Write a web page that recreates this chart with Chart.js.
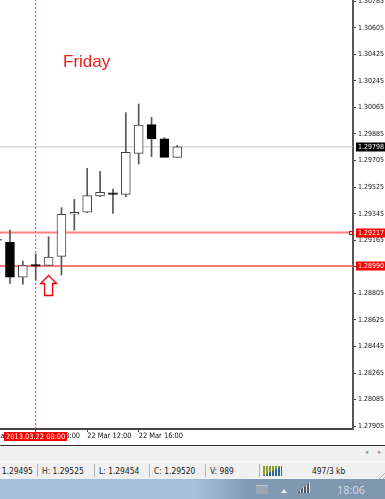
<!DOCTYPE html>
<html>
<head>
<meta charset="utf-8">
<script src="https://cdn.jsdelivr.net/npm/chart.js@4"></script>
<style>
    html, body { margin: 0; padding: 0; background: #fff; overflow: hidden; }
    body { width: 385px; height: 499px; position: relative; font-family: "DejaVu Sans Condensed", "DejaVu Sans", sans-serif; }
    #chart-box { position: absolute; left: 0; top: 0; width: 385px; height: 445px; }
    #scroll-band { position: absolute; left: 0; top: 445px; width: 385px; height: 16px; background: #f0f0f0; border-top: 1px solid #333; box-sizing: border-box; }
    #status-bar { position: absolute; left: 0; top: 461px; width: 385px; height: 18px; background: #f0f0f0; border-top: 1px solid #fafafa; box-sizing: border-box; font-size: 8.4px; line-height: 19px; color: #222; }
    #status-bar span { position: absolute; top: 0; white-space: nowrap; }
    #status-bar i { position: absolute; top: 2px; width: 1px; height: 13px; background: #b4b4b4; }
    #net-icon { position: absolute; left: 263px; top: 4px; width: 19px; height: 10px; background: repeating-linear-gradient(90deg, #2e6a94 0 2px, #e8eef0 2px 3px); }
    #net-icon b { position: absolute; left: 0; top: 0; width: 19px; height: 10px; background: repeating-linear-gradient(90deg, #8aa02c 0 2px, #e8eef0 2px 3px); clip-path: polygon(0 0, 100% 0, 0 100%); }
    #grip { position: absolute; right: 0; bottom: 0; width: 9px; height: 9px; background: repeating-linear-gradient(135deg, #f0f0f0 0 2px, #b0b0b0 2px 3px); clip-path: polygon(100% 0, 100% 100%, 0 100%); }
    #taskbar { position: absolute; left: 0; top: 479px; width: 385px; height: 20px; background: linear-gradient(90deg, #a7c0da 0, #a7c0da 195px, #8199b2 250px, #7f96ae 100%); }
    #clock { position: absolute; left: 337px; top: 3px; font: 11px "Open Sans", sans-serif; color: #d3deea; }
    #kbd { position: absolute; left: 256px; top: 6px; width: 12px; height: 8px; background: #9aa6b2; border-radius: 1px; border-top: 1px solid #c0c8d0; }
    #tray { position: absolute; left: 281px; top: 10px; width: 0; height: 0; border-left: 3px solid transparent; border-right: 3px solid transparent; border-bottom: 4px solid #e8eef4; }
    #signal { position: absolute; left: 297px; top: 3px; width: 13px; height: 11px; background: repeating-linear-gradient(90deg, #e4e8ee 0 1px, #4a5a6a 1px 3px); clip-path: polygon(0 100%, 100% 0, 100% 100%); }
</style>
</head>
<body>
<div id="chart-box"><canvas id="chart"></canvas></div>
<div id="scroll-band">
    <span style="position:absolute;left:365px;top:2px;font-size:7px;color:#999">◂</span>
    <span style="position:absolute;left:378px;top:2px;font-size:7px;color:#999">▸</span>
</div>
<div id="status-bar">
    <span style="left:-9px">O: 1.29495</span><i style="left:37px"></i>
    <span style="left:42px">H: 1.29525</span><i style="left:94px"></i>
    <span style="left:99px">L: 1.29454</span><i style="left:149px"></i>
    <span style="left:154px">C: 1.29520</span><i style="left:205px"></i>
    <span style="left:210px">V: 989</span><i style="left:259px"></i>
    <div id="net-icon"><b></b></div>
    <span style="left:312px">497/3 kb</span>
    <div id="grip"></div>
</div>
<div id="taskbar">
    <div id="kbd"></div><div id="tray"></div><div id="signal"></div>
    <div id="clock">18:06</div>
</div>
<script>
// Hourly candles, 22 Mar
const hours = [5, 6, 7, 8, 9, 10, 11, 12, 13, 14, 15, 16, 17, 18, 19];
const opens = [1.29170, 1.29151, 1.28914, 1.29000, 1.28995, 1.29056, 1.29341, 1.29356, 1.29465, 1.29487, 1.29476, 1.29754, 1.29948, 1.29853, 1.29727];
const highs = [1.29175, 1.29234, 1.29024, 1.29072, 1.29189, 1.29386, 1.29442, 1.29652, 1.29632, 1.29512, 1.30030, 1.30088, 1.29998, 1.29860, 1.29808];
const lows = [1.29160, 1.28873, 1.28868, 1.28896, 1.28995, 1.28930, 1.29234, 1.29352, 1.29460, 1.29347, 1.29460, 1.29682, 1.29731, 1.29727, 1.29727];
const closes = [1.29165, 1.28914, 1.28993, 1.28990, 1.29051, 1.29341, 1.29354, 1.29467, 1.29490, 1.29476, 1.29761, 1.29946, 1.29851, 1.29727, 1.29798];

const priceTicks = [1.30785, 1.30605, 1.30425, 1.30245, 1.30065, 1.29885, 1.29705, 1.29525, 1.29345, 1.29165, 1.28985, 1.28805, 1.28625, 1.28445, 1.28265, 1.28085, 1.27905];
const timeTicks = [4, 8, 12, 16];
const timeLabels = ['22 Mar 04:00', '22 Mar 08:00', '22 Mar 12:00', '22 Mar 16:00'];

const lastPrice = 1.29798;
const upperLevel = 1.29217;
const lowerLevel = 1.28990;
const markerHour = 8;
const markerLabel = '2013.03.22 08:00';
const arrowHour = 9;

const xMin = 5.226;
const xMax = 32.65;
const yMin = 1.27886;
const yMax = 1.30793;
const fontName = '"DejaVu Sans Condensed", "DejaVu Sans", sans-serif';

const wicks = hours.map((h, i) => ({ x: h, y: [lows[i], highs[i]] }));
const upBodies = [];
const downBodies = [];
hours.forEach((h, i) => {
    const body = { x: h, y: [Math.min(opens[i], closes[i]), Math.max(opens[i], closes[i])] };
    if (closes[i] >= opens[i]) upBodies.push(body);
    else downBodies.push(body);
});

function hLine(value) {
    return [{ x: xMin, y: value }, { x: xMax, y: value }];
}

// Labels hang over the plot edges in the terminal, so no padding for them
function clearPadding(axis) {
    axis.paddingLeft = 0;
    axis.paddingRight = 0;
    axis.paddingTop = 0;
    axis.paddingBottom = 0;
}

// Price tags, marker label, Friday text and the arrow sit on top of the datasets
const overlayPlugin = {
    id: 'overlay',
    afterDraw(chart) {
        const ctx = chart.ctx;
        const x = chart.scales.x;
        const y = chart.scales.y;

        function priceTag(value, bg) {
            const py = Math.round(y.getPixelForValue(value));
            ctx.fillStyle = bg;
            ctx.fillRect(356, py - 4.5, 29, 9);
            ctx.fillStyle = '#fff';
            ctx.font = '7px ' + fontName;
            ctx.textAlign = 'left';
            ctx.textBaseline = 'middle';
            ctx.fillText(value.toFixed(5), 358, py + 0.5);
        }

        ctx.save();
        priceTag(lastPrice, '#000');
        priceTag(upperLevel, '#ff0000');
        priceTag(lowerLevel, '#ff0000');

        // handle on the upper level
        const hy = Math.round(y.getPixelForValue(upperLevel));
        ctx.fillStyle = '#fff';
        ctx.strokeStyle = '#e00000';
        ctx.lineWidth = 1;
        ctx.fillRect(349.5, hy - 1.5, 3, 3);
        ctx.strokeRect(349.5, hy - 1.5, 3, 3);

        // marker time label
        ctx.fillStyle = '#ff0000';
        ctx.fillRect(4, 432, 63, 9);
        ctx.fillStyle = '#fff';
        ctx.font = '7.4px ' + fontName;
        ctx.textBaseline = 'middle';
        ctx.fillText(markerLabel, 6, 437);

        ctx.fillStyle = '#e8201c';
        ctx.font = '17px "Liberation Sans", sans-serif';
        ctx.fillText('Friday', 63, 62);

        // up arrow under the signal candle
        const ax = x.getPixelForValue(arrowHour);
        const ay = 275.5;
        ctx.beginPath();
        ctx.moveTo(ax, ay);
        ctx.lineTo(ax + 8, ay + 8);
        ctx.lineTo(ax + 4, ay + 8);
        ctx.lineTo(ax + 4, ay + 20);
        ctx.lineTo(ax - 4, ay + 20);
        ctx.lineTo(ax - 4, ay + 8);
        ctx.lineTo(ax - 8, ay + 8);
        ctx.closePath();
        ctx.fillStyle = '#fff';
        ctx.fill();
        ctx.strokeStyle = '#f00000';
        ctx.lineWidth = 1.3;
        ctx.stroke();
        ctx.restore();
    }
};

new Chart(document.getElementById('chart'), {
    data: {
        datasets: [
            { type: 'line', data: [{ x: markerHour, y: yMin }, { x: markerHour, y: yMax }], borderColor: '#f03030', borderWidth: 1, borderDash: [2, 2], pointRadius: 0, order: 5 },
            { type: 'line', data: hLine(lastPrice), borderColor: '#c8c8c8', borderWidth: 1, pointRadius: 0, order: 6 },
            { type: 'line', data: hLine(upperLevel), borderColor: '#ff8080', borderWidth: 2, pointRadius: 0, order: 4 },
            { type: 'line', data: hLine(lowerLevel), borderColor: '#ff5050', borderWidth: 1.5, pointRadius: 0, order: 4 },
            { type: 'bar', data: wicks, backgroundColor: '#555', barThickness: 1, grouped: false, order: 3 },
            { type: 'bar', data: upBodies, backgroundColor: '#fff', borderColor: '#444', borderWidth: 1, borderSkipped: false, barThickness: 9, grouped: false, order: 2 },
            { type: 'bar', data: downBodies, backgroundColor: '#000', borderColor: '#000', borderWidth: 1, borderSkipped: false, barThickness: 9, grouped: false, order: 1 }
        ]
    },
    options: {
        responsive: true,
        maintainAspectRatio: false,
        animation: false,
        layout: { padding: 0 },
        plugins: { legend: { display: false }, tooltip: { enabled: false } },
        scales: {
            x: {
                type: 'linear',
                offset: false,
                min: xMin,
                max: xMax,
                afterBuildTicks: axis => { axis.ticks = timeTicks.map(v => ({ value: v })); },
                afterFit: axis => { axis.height = 16; clearPadding(axis); },
                border: { color: '#444', width: 2 },
                grid: { offset: false, drawOnChartArea: false, tickLength: 3, tickColor: '#444' },
                ticks: {
                    autoSkip: false,
                    maxRotation: 0,
                    align: 'start',
                    padding: 0,
                    color: '#111',
                    font: { family: fontName, size: 7.4 },
                    callback: (value, index) => timeLabels[index]
                }
            },
            y: {
                type: 'linear',
                position: 'right',
                min: yMin,
                max: yMax,
                afterBuildTicks: axis => { axis.ticks = priceTicks.map(v => ({ value: v })); },
                afterFit: axis => { axis.width = 32; clearPadding(axis); },
                border: { color: '#555', width: 2 },
                grid: { drawOnChartArea: false, tickLength: 3, tickColor: '#444' },
                ticks: {
                    autoSkip: false,
                    padding: 2,
                    color: '#111',
                    font: { family: fontName, size: 7 },
                    callback: value => value.toFixed(5)
                }
            }
        }
    },
    plugins: [overlayPlugin]
});
</script>
</body>
</html>
